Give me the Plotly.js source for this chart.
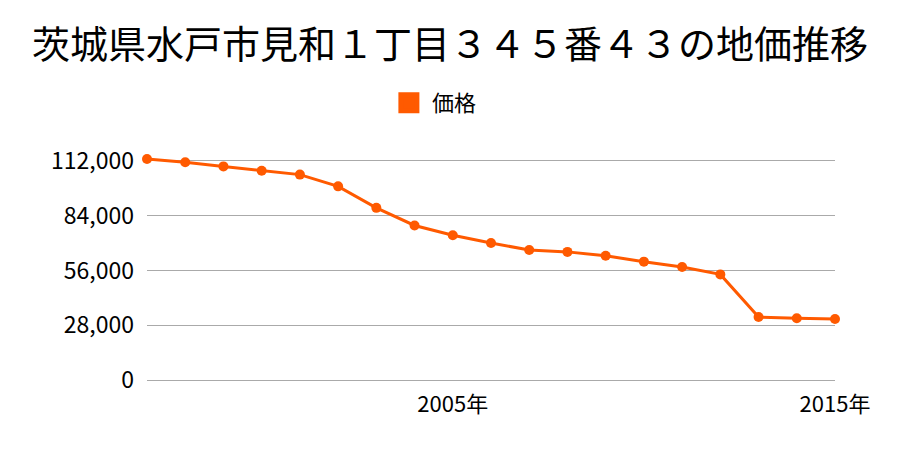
<!DOCTYPE html>
<html>
<head>
<meta charset="utf-8">
<script src="https://cdn.plot.ly/plotly-3.0.1.min.js"></script>
<style>html,body{margin:0;padding:0;background:#fff;}#chart{width:900px;height:450px;}</style>
</head>
<body>
<div id="chart"></div>
<script>
const chartTitle = "茨城県水戸市見和１丁目３４５番４３の地価推移";
const seriesName = "価格";
const years = [1997,1998,1999,2000,2001,2002,2003,2004,2005,2006,2007,2008,2009,2010,2011,2012,2013,2014,2015];
const prices = [113000,111300,109200,107000,105000,99000,88000,79000,74000,70000,66500,65500,63500,60500,57800,54000,32200,31600,31200];
const xTickVals = [2005, 2015];
const xTickText = ["2005年", "2015年"];
const yTickVals = [0, 28000, 56000, 84000, 112000];
const yTickText = ["0", "28,000", "56,000", "84,000", "112,000"];

const color = "#ff5a00";
const font = "Noto Sans CJK JP, Noto Sans, sans-serif";

const traces = [
  {
    x: years, y: prices, type: "scatter", mode: "lines+markers",
    line: {color: color, width: 3}, marker: {color: color, size: 10},
    showlegend: false, cliponaxis: false, hoverinfo: "x+y"
  },
  {
    x: [null], y: [null], type: "scatter", mode: "markers", name: seriesName,
    marker: {color: color, size: 16, symbol: "square", line: {color: color, width: 5}}, showlegend: true
  }
];

const layout = {
  width: 900, height: 450,
  margin: {l: 147, r: 65, t: 157, b: 69},
  paper_bgcolor: "#fff", plot_bgcolor: "#fff",
  font: {family: font, color: "#000"},
  title: {text: chartTitle, font: {size: 38, family: font, color: "#000"}, x: 0.5, xanchor: "center", y: 0.9, yanchor: "middle", yref: "container"},
  showlegend: true,
  legend: {orientation: "h", x: 0.417, xanchor: "center", y: 1.241, yanchor: "middle", font: {size: 22, family: font}, itemwidth: 36},
  xaxis: {
    range: [1997, 2015], tickvals: xTickVals, ticktext: xTickText,
    showgrid: false, zeroline: false, showline: false, ticks: "",
    ticklabelstandoff: 8,
    tickfont: {size: 22, family: font, color: "#000"}, fixedrange: true
  },
  yaxis: {
    range: [-500, 114000], tickvals: yTickVals, ticktext: yTickText,
    showgrid: true, gridcolor: "#aaaaaa", gridwidth: 1,
    zeroline: true, zerolinecolor: "#aaaaaa", zerolinewidth: 1,
    showline: false, ticks: "",
    ticklabelstandoff: 12,
    tickfont: {size: 23, family: font, color: "#000"}, fixedrange: true
  }
};

Plotly.newPlot("chart", traces, layout, {displayModeBar: false, staticPlot: true});
</script>
</body>
</html>
